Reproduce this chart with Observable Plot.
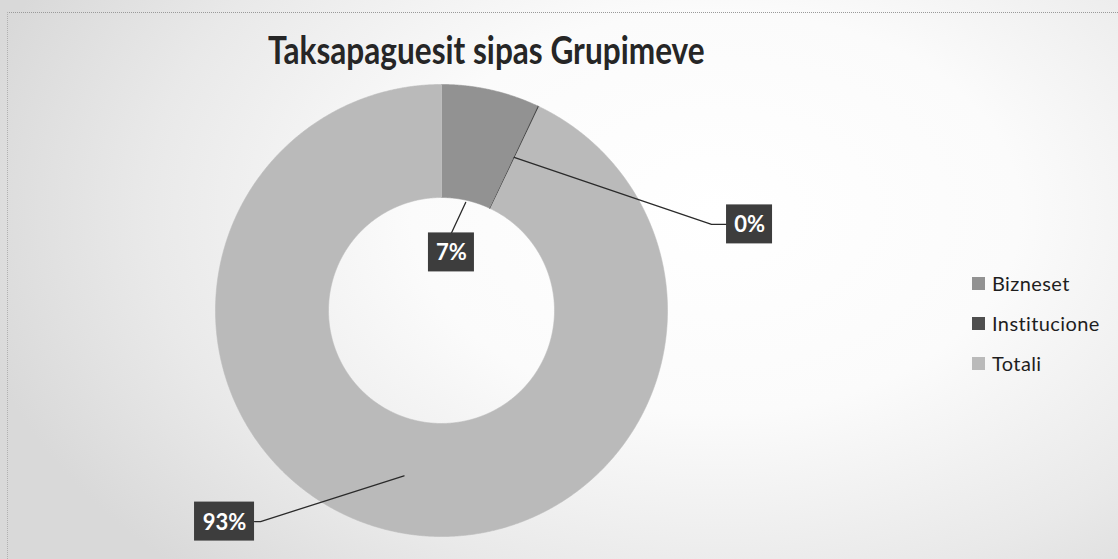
<!DOCTYPE html>
<html>
<head>
<meta charset="utf-8">
<script src="https://cdn.jsdelivr.net/npm/d3@7"></script>
<script src="https://cdn.jsdelivr.net/npm/@observablehq/plot@0.6"></script>
<style>
  html, body { margin: 0; padding: 0; background: #ffffff; }
  #wrap {
    position: relative; width: 1118px; height: 559px; overflow: hidden;
    background: radial-gradient(ellipse 68% 90% at 64% 38%, #ffffff 0%, #fbfbfb 40%, #e9e9e9 75%, #d9d9d9 100%);
  }
  #wrap::before {
    content: ""; position: absolute; left: 7px; top: 12px; right: -2px; bottom: -2px;
    border-top: 1px dotted #9a9a9a; border-left: 1px dotted #b0b0b0;
  }
  #chart { position: absolute; left: 0; top: 0; }
  #title {
    position: absolute; left: 268px; top: 26px; white-space: nowrap;
    font-family: Lato, "DejaVu Sans", sans-serif; font-weight: bold; font-size: 39px;
    color: #262626; transform: scaleX(0.81); transform-origin: 0 0;
  }
  #legend { position: absolute; left: 972px; top: 272px; font-family: Lato, sans-serif; font-size: 20px; letter-spacing: 0.4px; color: #1e1e1e; }
  #legend .row { display: flex; align-items: center; height: 22px; margin-bottom: 18px; }
  #legend .sw { width: 13px; height: 13px; margin-right: 7px; }
</style>
</head>
<body>
<div id="wrap">
  <div id="chart"></div>
  <div id="title"></div>
  <div id="legend"></div>
</div>
<script>
// ---- data ----
const title = "Taksapaguesit sipas Grupimeve";
const categories = ["Bizneset", "Institucione", "Totali"];
const values = [7.0, 0.1, 92.9];
const colors = ["#929292", "#4e4e4e", "#bababa"];

// ---- layout (pixels) ----
const W = 1118, H = 559;
const cx = 441, cy = 310, R = 226, innerRatio = 0.5;
// label box centres (in ring-radius units relative to centre) and leader settings
const labelCenters = [[0.044, 0.257], [1.363, 0.381], [-0.96, -0.934]];
const leaderRadius = [0.49, 0.75, 0.75];
const leaderSide = ["top", "left", "right"];

const total = d3.sum(values);
const fmt = d3.format(".0%");
const px = 1 / R; // one pixel in ring units

// ring polygons
const arcs = [];
const mids = [];
let cum = 0;
categories.forEach((c, i) => {
  const a0 = cum / total * 2 * Math.PI;
  cum += values[i];
  const a1 = cum / total * 2 * Math.PI;
  mids.push((a0 + a1) / 2);
  const n = Math.max(2, Math.ceil((a1 - a0) / 0.004));
  for (let k = 0; k <= n; k++) {
    const a = a0 + (a1 - a0) * k / n;
    arcs.push({cat: c, x: Math.sin(a), y: Math.cos(a)});
  }
  for (let k = n; k >= 0; k--) {
    const a = a0 + (a1 - a0) * k / n;
    arcs.push({cat: c, x: innerRatio * Math.sin(a), y: innerRatio * Math.cos(a)});
  }
});

// labels
const labelData = categories.map((c, i) => {
  const text = fmt(values[i] / total);
  const w = (18 + 14 * text.length) * px, h = 39 * px;
  const [lx, ly] = labelCenters[i];
  return {cat: c, text, x: lx, y: ly, x1: lx - w / 2, x2: lx + w / 2, y1: ly - h / 2, y2: ly + h / 2};
});

const leaders = [];
labelData.forEach((d, i) => {
  const r = leaderRadius[i], a = mids[i];
  leaders.push({cat: d.cat, x: r * Math.sin(a), y: r * Math.cos(a)});
  if (leaderSide[i] === "top") {
    leaders.push({cat: d.cat, x: d.x, y: d.y2});
  } else if (leaderSide[i] === "left") {
    leaders.push({cat: d.cat, x: d.x1 - 15 * px, y: d.y});
    leaders.push({cat: d.cat, x: d.x1, y: d.y});
  } else {
    leaders.push({cat: d.cat, x: d.x2 + 6 * px, y: d.y});
    leaders.push({cat: d.cat, x: d.x2, y: d.y});
  }
});

const chart = Plot.plot({
  width: W, height: H, margin: 0,
  x: {domain: [-cx / R, (W - cx) / R], axis: null},
  y: {domain: [-(H - cy) / R, cy / R], axis: null},
  color: {domain: categories, range: colors},
  style: {background: "transparent", fontFamily: "Lato, sans-serif"},
  marks: [
    Plot.line(arcs, {x: "x", y: "y", z: "cat", fill: "cat", stroke: "cat", strokeWidth: 0.6, curve: "linear"}),
    Plot.line(leaders, {x: "x", y: "y", z: "cat", stroke: "#2a2a2a", strokeWidth: 1.3}),
    Plot.rect(labelData, {x1: "x1", x2: "x2", y1: "y1", y2: "y2", fill: "#3d3d3d"}),
    Plot.text(labelData, {x: "x", y: "y", text: "text", fill: "white", fontWeight: "bold", fontSize: 22, dy: 1})
  ]
});
document.getElementById("chart").appendChild(chart);
document.getElementById("title").textContent = title;

const legend = document.getElementById("legend");
categories.forEach((c, i) => {
  const row = document.createElement("div");
  row.className = "row";
  const sw = document.createElement("div");
  sw.className = "sw";
  sw.style.background = colors[i];
  const t = document.createElement("span");
  t.textContent = c;
  row.appendChild(sw); row.appendChild(t);
  legend.appendChild(row);
});
</script>
</body>
</html>
